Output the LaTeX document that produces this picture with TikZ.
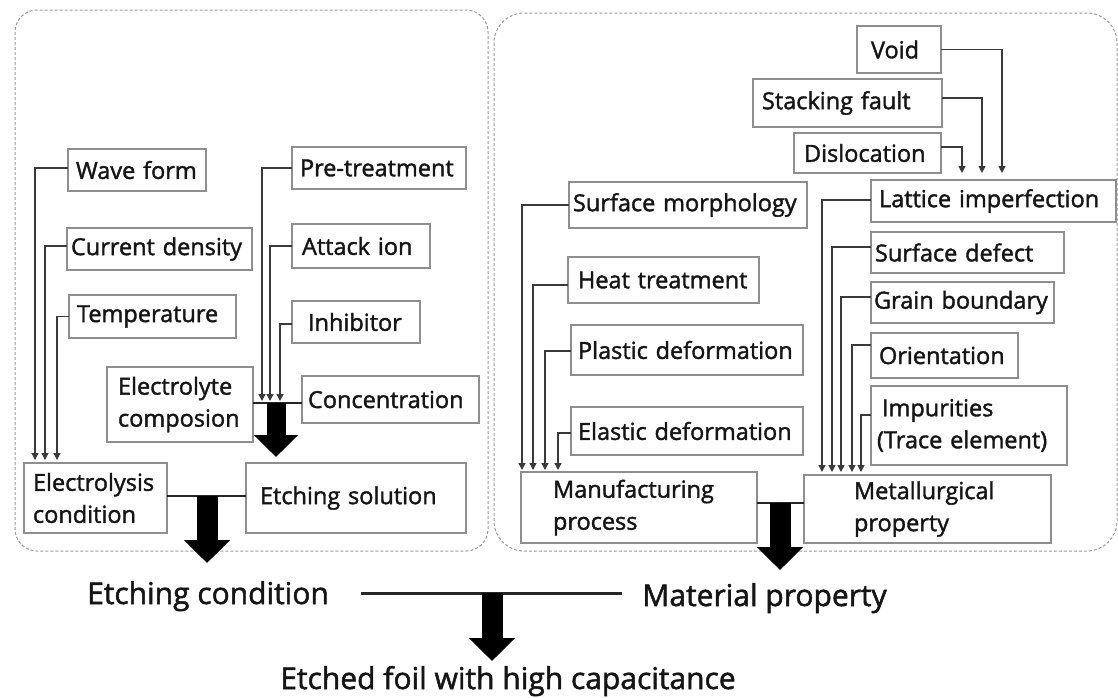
\documentclass[tikz,border=0pt]{standalone}
\usepackage{fontspec}
\setmainfont{Open Sans}
\newfontfamily\labelfont[FakeBold=1.6]{Open Sans}
\usetikzlibrary{arrows.meta}
\definecolor{boxgray}{HTML}{8E8E8E}
\definecolor{conngray}{HTML}{3A3A3A}
\definecolor{panelgray}{HTML}{9A9A9A}
\definecolor{ink}{HTML}{151515}
\begin{document}
\hyphenpenalty=10000
\exhyphenpenalty=10000
\begin{tikzpicture}[x=1pt,y=-1pt,
  box/.style={draw=boxgray, line width=1.1pt, inner ysep=0pt, outer sep=0pt,
    align=left, text=ink, font=\labelfont\fontsize{23.5}{32}\selectfont},
  conn/.style={draw=conngray, line width=1.3pt, -{Triangle[length=7pt,width=7pt]}},
  joinline/.style={draw=black!85, line width=2.6pt},
  bigarrow/.style={draw=black, line width=21pt, -{Triangle[length=23pt,width=45pt]}},
  panel/.style={draw=panelgray, line width=1pt, dash pattern=on 3pt off 2pt},
  biglabel/.style={font=\labelfont\fontsize{30}{36}\selectfont, text=ink, inner sep=0pt, anchor=base}
]
\useasboundingbox (0,0) rectangle (1118,697);

% two dashed groups
\draw[panel, rounded corners=22pt] (15,10) rectangle (488,551);
\draw[panel, rounded corners=30pt] (494,13) rectangle (1117,551);

% ---- etching side ----
\node[box, minimum width=138pt, minimum height=42pt, inner xsep=8pt, text width=122pt] (wave) at (137,170) {Wave form};
\node[box, minimum width=185pt, minimum height=42pt, inner xsep=4pt, text width=177pt] (curd) at (159.5,249) {Current density};
\node[box, minimum width=167pt, minimum height=43pt, inner xsep=8pt, text width=151pt] (temp) at (152.5,316.5) {Temperature};
\node[box, minimum width=174pt, minimum height=42pt, inner xsep=8pt, text width=158pt] (pre) at (379,168) {Pre-treatment};
\node[box, minimum width=138pt, minimum height=44pt, inner xsep=10pt, text width=118pt] (attack) at (361,246) {Attack ion};
\node[box, minimum width=128pt, minimum height=42pt, inner xsep=16pt, text width=96pt] (inhib) at (356,322) {Inhibitor};
\node[box, minimum width=146pt, minimum height=75pt, inner xsep=11pt, text width=124pt] (elyte) at (180,404.5) {Electrolyte\\composion};
\node[box, minimum width=177pt, minimum height=47pt, inner xsep=6pt, text width=165pt] (conc) at (390.5,399.5) {Concentration};
\node[box, minimum width=143pt, minimum height=70pt, inner xsep=9pt, text width=125pt] (elys) at (95.5,498) {Electrolysis\\condition};
\node[box, minimum width=220pt, minimum height=70pt, inner xsep=14pt, text width=192pt] (etsol) at (356,498) {Etching solution};

\draw[conn] ([yshift=2pt]wave.west) -| ([xshift=11pt,yshift=3pt]elys.north west);
\draw[conn] ([yshift=3pt]curd.west) -| ([xshift=21pt,yshift=3pt]elys.north west);
\draw[conn] (temp.west) -| ([xshift=33pt,yshift=3pt]elys.north west);

\coordinate (ejoin) at (276,403);
\draw[conn] (pre.west) -| ([xshift=-14pt,yshift=2pt]ejoin);
\draw[conn] (attack.west) -| ([xshift=-6pt,yshift=2pt]ejoin);
\draw[conn] ([yshift=-2pt]inhib.west) -| ([xshift=4pt,yshift=2pt]ejoin);
\draw[joinline] (elyte.east |- ejoin) -- (conc.west |- ejoin);
\draw[bigarrow, line width=19pt, -{Triangle[length=22pt,width=43pt]}] (ejoin) -- ([yshift=6pt]etsol.north -| ejoin);

\coordinate (ljoin) at (207,496);
\coordinate (ltip) at (207,563);
\draw[joinline] (elys.east |- ljoin) -- (etsol.west |- ljoin);
\draw[bigarrow] (ljoin) -- (ltip);

% ---- material side ----
\node[box, minimum width=84pt, minimum height=47pt, inner xsep=14pt, text width=56pt] (void) at (899,49.5) {Void};
\node[box, minimum width=189pt, minimum height=48pt, inner xsep=9pt, text width=171pt] (stack) at (847.5,103) {Stacking fault};
\node[box, minimum width=147pt, minimum height=40pt, inner xsep=10pt, text width=127pt] (disloc) at (867.5,153) {Dislocation};
\node[box, minimum width=238pt, minimum height=46pt, inner xsep=4pt, text width=230pt] (surfm) at (688,205) {Surface morphology};
\node[box, minimum width=191pt, minimum height=46pt, inner xsep=10pt, text width=171pt] (heat) at (663.5,280) {Heat treatment};
\node[box, minimum width=232pt, minimum height=50pt, inner xsep=7pt, text width=218pt] (plast) at (687,350) {Plastic deformation};
\node[box, minimum width=232pt, minimum height=48pt, inner xsep=7pt, text width=218pt] (elast) at (687,431) {Elastic deformation};
\node[box, minimum width=236pt, minimum height=71pt, inner xsep=32pt, text width=172pt] (manu) at (639,507.5) {Manufacturing\\process};
\node[box, minimum width=245pt, minimum height=42pt, inner xsep=8pt, text width=229pt] (lattice) at (993.5,201) {Lattice imperfection};
\node[box, minimum width=193pt, minimum height=41pt, inner xsep=4pt, text width=185pt] (surfd) at (967.5,252.5) {Surface defect};
\node[box, minimum width=183pt, minimum height=41pt, inner xsep=3pt, text width=177pt] (grain) at (962.5,302.5) {Grain boundary};
\node[box, minimum width=147pt, minimum height=45pt, inner xsep=8pt, text width=131pt] (orient) at (944.5,355.5) {Orientation};
\node[box, minimum width=196pt, minimum height=79pt, inner xsep=6pt, text width=184pt] (impur) at (969,425.5) {\hspace*{5pt}Impurities\\(Trace element)};
\node[box, minimum width=247pt, minimum height=68pt, inner xsep=50pt, text width=147pt] (metal) at (927.5,509) {Metallurgical\\property};

\draw[conn] (void.east) -| ([xshift=131pt,yshift=7pt]lattice.north west);
\draw[conn] ([yshift=5pt]stack.east) -| ([xshift=111pt,yshift=7pt]lattice.north west);
\draw[conn] ([yshift=6pt]disloc.east) -| ([xshift=91pt,yshift=7pt]lattice.north west);

\draw[conn] (surfm.west) -| ([xshift=1pt,yshift=2pt]manu.north west);
\draw[conn] ([yshift=-5pt]heat.west) -| ([xshift=12pt,yshift=2pt]manu.north west);
\draw[conn] ([yshift=-1pt]plast.west) -| ([xshift=24pt,yshift=2pt]manu.north west);
\draw[conn] ([yshift=-2pt]elast.west) -| ([xshift=37pt,yshift=2pt]manu.north west);

\draw[conn] ([yshift=1pt]lattice.west) -| ([xshift=18pt,yshift=3pt]metal.north west);
\draw[conn] ([yshift=5.5pt]surfd.west) -| ([xshift=28pt,yshift=3pt]metal.north west);
\draw[conn] ([yshift=5.5pt]grain.west) -| ([xshift=37pt,yshift=3pt]metal.north west);
\draw[conn] ([yshift=10.5pt]orient.west) -| ([xshift=48pt,yshift=3pt]metal.north west);
\draw[conn] ([yshift=10.5pt]impur.west) -| ([xshift=57pt,yshift=3pt]metal.north west);

\coordinate (rjoin) at (780,503);
\coordinate (rtip) at (780,570);
\draw[joinline] (manu.east |- rjoin) -- (metal.west |- rjoin);
\draw[bigarrow] (rjoin) -- (rtip);

% ---- result ----
\node[biglabel] (etchc) at (208,604) {Etching condition};
\node[biglabel] (matp) at (764.5,606) {Material property};
\node[biglabel] (foil) at (508,689) {Etched foil with high capacitance};
\coordinate (bjoin) at (492,593);
\coordinate (btip) at (492,661);
\draw[joinline, line width=3pt] ([xshift=32pt]etchc.east |- bjoin) -- ([xshift=-20pt]matp.west |- bjoin);
\draw[bigarrow] (bjoin) -- (btip);
\end{tikzpicture}
\end{document}
